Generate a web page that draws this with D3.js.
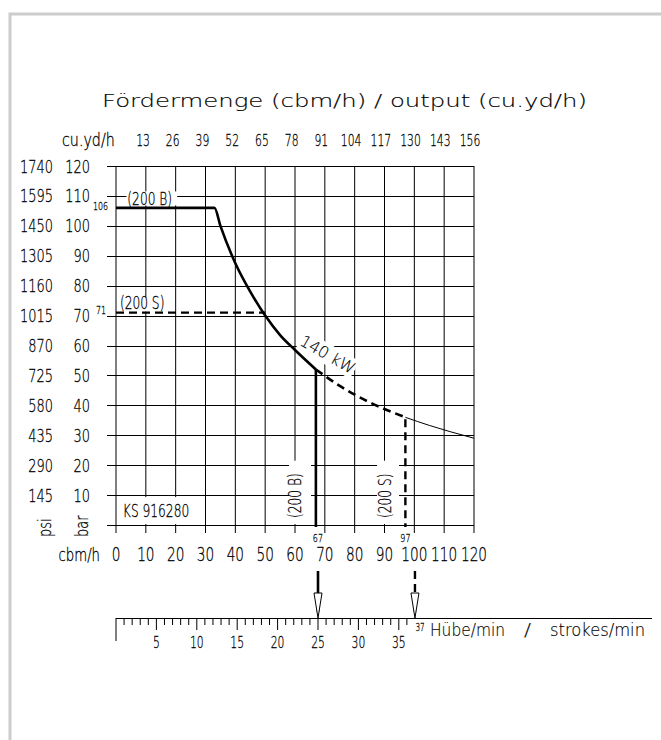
<!DOCTYPE html>
<html>
<head>
<meta charset="utf-8">
<script src="https://cdn.jsdelivr.net/npm/d3@7"></script>
<style>
body { margin: 0; background: #fff; }
text { fill: #000; stroke: #000; stroke-width: 0.3px; font-family: "DejaVu Sans", sans-serif; font-weight: 200; }
text.wide { stroke-width: 0.15px; }
</style>
</head>
<body>
<script>
// data
var cbmTicks = [0, 10, 20, 30, 40, 50, 60, 70, 80, 90, 100, 110, 120];
var barTicks = [10, 20, 30, 40, 50, 60, 70, 80, 90, 100, 110, 120];
var psiLabels = [145, 290, 435, 580, 725, 870, 1015, 1160, 1305, 1450, 1595, 1740];
var cuydLabels = [13, 26, 39, 52, 65, 78, 91, 104, 117, 130, 143, 156];
var strokeLabels = [5, 10, 15, 20, 25, 30, 35];

// 140 kW power curve (cbm/h, bar)
var curveQ = [33, 35, 40, 45, 50, 55, 60, 67, 75, 85, 97, 105, 112, 120];
var curveP = [106, 100, 87.5, 78, 70, 63.5, 58.5, 52, 46.5, 41, 36, 33.3, 31.2, 29];

var pressB = 106, pressS = 71;   // bar, horizontal limits
var flowB = 67, flowS = 97;      // cbm/h at the limits
var strokesB = 25, strokesS = 37;

var W = 661, H = 740;
var SQ = 0.72;  // squeeze for the narrow drawing font

var svg = d3.select("body").append("svg")
    .attr("width", W)
    .attr("height", H);

// grey frame
svg.append("path")
    .attr("d", "M10,740 V14 H661")
    .attr("fill", "none")
    .attr("stroke", "#cccccc")
    .attr("stroke-width", 3);

var x = d3.scaleLinear().domain([0, 120]).range([116, 474]);
var y = d3.scaleLinear().domain([0, 120]).range([525, 166]);
var xs = d3.scaleLinear().domain([0, 25]).range([116, 318]);
var xc = d3.scaleLinear().domain([13, 156]).range([143, 470]);

// narrow text helper
function ntext(g, px, py, s, size, anchor, rot, sq) {
  return g.append("text")
    .attr("transform", "translate(" + px + "," + py + ")" + (rot ? " rotate(" + rot + ")" : "") + " scale(" + (sq || SQ) + ",1)")
    .attr("font-size", size)
    .attr("text-anchor", anchor || "start")
    .text(s);
}
// wide text stretched to a given length
function wtext(px, py, s, size, len) {
  return svg.append("text")
    .attr("class", "wide")
    .attr("x", px).attr("y", py)
    .attr("font-size", size)
    .attr("textLength", len)
    .attr("lengthAdjust", "spacingAndGlyphs")
    .text(s);
}

var pts = curveQ.map(function(q, i) { return [q, curveP[i]]; });
var line = d3.line()
    .x(function(d) { return x(d[0]); })
    .y(function(d) { return y(d[1]); })
    .curve(d3.curveMonotoneX);

// grid
var grid = svg.append("g").attr("stroke", "#000").attr("stroke-width", 1);
grid.selectAll(".h")
    .data([0].concat(barTicks))
  .enter().append("line")
    .attr("x1", 107).attr("x2", x(120))
    .attr("y1", function(d) { return Math.round(y(d)) + 0.5; })
    .attr("y2", function(d) { return Math.round(y(d)) + 0.5; });
grid.selectAll(".v")
    .data(cbmTicks)
  .enter().append("line")
    .attr("x1", function(d) { return x(d); })
    .attr("x2", function(d) { return x(d); })
    .attr("y1", y(120)).attr("y2", y(0) + 8);

// white boxes behind the labels inside the grid
function box(x0, y0, w, h) {
  svg.append("rect").attr("x", x0).attr("y", y0)
    .attr("width", w).attr("height", h).attr("fill", "#fff");
}
box(x(0) + 2, y(10) + 2, x(28) - x(0), y(0) - y(10) - 3);
box(x(3.5), y(111.5), x(20.5) - x(3.5), 14);
box(x(1), y(76), x(18.5) - x(1), 14);
box(x(58), y(21.5), 22, y(0) - y(21.5) - 1);
box(x(87.5), y(21.5), 22, y(0) - y(21.5) - 1);
svg.append("rect")
    .attr("x", -31).attr("y", -10).attr("width", 62).attr("height", 20)
    .attr("fill", "#fff")
    .attr("transform", "translate(" + x(71) + "," + y(57) + ") rotate(30)");

// left axis labels
var left = svg.append("g");
psiLabels.forEach(function(d, i) { ntext(left, 53, y(barTicks[i]) + 6.5, d, 18, "end"); });
barTicks.forEach(function(d) { ntext(left, 90, y(d) + 6.5, d, 18, "end"); });
ntext(left, 51, y(0) + 12, "psi", 18, "start", -90);
ntext(left, 88, y(0) + 12, "bar", 18, "start", -90);

// bottom axis labels
var bottom = svg.append("g");
cbmTicks.forEach(function(d) { ntext(bottom, x(d), 561, d, 19, "middle"); });
ntext(bottom, 100, 561, "cbm/h", 17, "end", 0, 0.78);

// top axis labels
var topAx = svg.append("g");
ntext(topAx, 62, 146, "cu.yd/h", 17, "start", 0, 0.84);
cuydLabels.forEach(function(d) { ntext(topAx, xc(d), 146, d, 15, "middle"); });

// title
wtext(102, 107, "Fördermenge (cbm/h) / output (cu.yd/h)", 18, 485);

// limit lines and curve
svg.append("path")
    .attr("d", line([[0, pressB]].concat(pts.filter(function(d) { return d[0] <= flowB; }))))
    .attr("fill", "none").attr("stroke", "#000").attr("stroke-width", 2.6);
svg.append("path")
    .attr("d", line(pts.filter(function(d) { return d[0] >= flowB && d[0] <= flowS; })))
    .attr("fill", "none").attr("stroke", "#000").attr("stroke-width", 2.6)
    .attr("stroke-dasharray", "8,5");
svg.append("path")
    .attr("d", line(pts.filter(function(d) { return d[0] >= flowS; })))
    .attr("fill", "none").attr("stroke", "#000").attr("stroke-width", 1);
svg.append("line")
    .attr("x1", x(0)).attr("x2", x(50))
    .attr("y1", y(pressS)).attr("y2", y(pressS))
    .attr("stroke", "#000").attr("stroke-width", 2.4)
    .attr("stroke-dasharray", "8,5");

var pB = curveP[curveQ.indexOf(flowB)], pS = curveP[curveQ.indexOf(flowS)];
svg.append("line")
    .attr("x1", x(flowB)).attr("x2", x(flowB))
    .attr("y1", y(pB)).attr("y2", y(0) + 2)
    .attr("stroke", "#000").attr("stroke-width", 2.6);
svg.append("line")
    .attr("x1", x(flowS)).attr("x2", x(flowS))
    .attr("y1", y(pS) + 2).attr("y2", y(0) + 2)
    .attr("stroke", "#000").attr("stroke-width", 2.4)
    .attr("stroke-dasharray", "8,5");

// labels in the plot
var lab = svg.append("g");
ntext(lab, x(3.8), y(pressB) - 3, "(200  B)", 17);
ntext(lab, x(1.3), y(pressS) - 4, "(200  S)", 17);
ntext(lab, x(2.3), y(0) - 8, "KS  916280", 17);
ntext(lab, x(60) + 6, y(0) - 7, "(200  B)", 17, "start", -90);
ntext(lab, x(90) + 6, y(0) - 7, "(200  S)", 17, "start", -90);

var small = svg.append("g");
ntext(small, x(0) - 8, y(pressB) + 2, pressB, 11, "end");
ntext(small, x(0) - 10, y(pressS) + 1, pressS, 11, "end");
ntext(small, x(flowB) + 2, y(0) + 17, flowB, 11, "middle");
ntext(small, x(flowS), y(0) + 17, flowS, 11, "middle");

svg.append("text")
    .attr("class", "wide")
    .attr("font-size", 16)
    .attr("text-anchor", "middle")
    .attr("dy", "0.35em")
    .attr("transform", "translate(" + x(71) + "," + y(57) + ") rotate(30)")
    .text("140  kW");

// strokes axis
var sy = 618;
svg.append("line")
    .attr("x1", xs(0)).attr("x2", 652)
    .attr("y1", sy + 0.5).attr("y2", sy + 0.5)
    .attr("stroke", "#000");
svg.append("g").selectAll("line")
    .data(d3.range(0, strokesS))
  .enter().append("line")
    .attr("x1", function(d) { return xs(d); })
    .attr("x2", function(d) { return xs(d); })
    .attr("y1", sy)
    .attr("y2", function(d) { return d === 0 ? sy + 23 : (d % 5 === 0 ? sy + 12 : sy + 7); })
    .attr("stroke", "#000");
var sl = svg.append("g");
strokeLabels.forEach(function(d) { ntext(sl, xs(d), 648, d, 15, "middle"); });
ntext(sl, xs(strokesS) + 5, sy + 13, strokesS, 10, "middle");
wtext(430, 636, "Hübe/min", 17, 75);
wtext(524, 636, "/", 17, 7);
wtext(550, 636, "strokes/min", 17, 95);

// arrows down to the strokes scale
function arrow(xp, dashed) {
  svg.append("line")
    .attr("x1", xp).attr("x2", xp)
    .attr("y1", 571).attr("y2", sy - 6)
    .attr("stroke", "#000").attr("stroke-width", dashed ? 2.4 : 2.6)
    .attr("stroke-dasharray", dashed ? "8,5" : null);
  svg.append("path")
    .attr("d", "M" + (xp - 4) + "," + (sy - 25) + " L" + (xp + 4) + "," + (sy - 25) + " L" + xp + "," + sy + " Z")
    .attr("fill", "#fff").attr("stroke", "#000").attr("stroke-width", 1);
}
arrow(xs(strokesB), false);
arrow(xs(strokesS), true);
</script>
</body>
</html>
